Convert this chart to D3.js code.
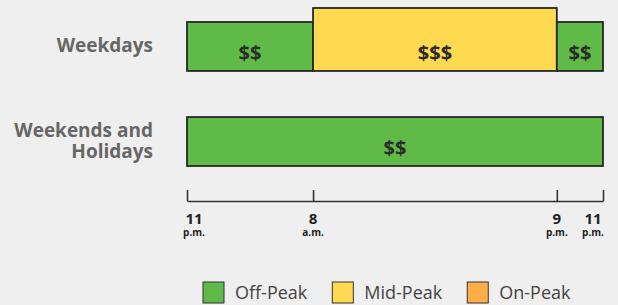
<!DOCTYPE html>
<html>
<head>
<meta charset="utf-8">
<script src="https://cdn.jsdelivr.net/npm/d3@7"></script>
<style>
  html, body { margin: 0; padding: 0; background: #efefef; }
  svg { display: block; font-family: "Open Sans", sans-serif; }
</style>
</head>
<body>
<div class="chart"></div>
<script>
// data
const rows = ['Weekdays', 'Weekends and Holidays'];
const rowLines = [['Weekdays'], ['Weekends and', 'Holidays']];

const segRow = ['Weekdays', 'Weekdays', 'Weekdays', 'Weekends and Holidays'];
const segStart = [0, 9, 22, 0];   // hours after 11 p.m.
const segEnd = [9, 22, 24, 24];
const segPeriod = ['Off-Peak', 'Mid-Peak', 'Off-Peak', 'Off-Peak'];
const segLabel = ['$$', '$$$', '$$', '$$'];

const tickHours = [0, 9, 22, 24];
const tickNum = ['11', '8', '9', '11'];
const tickPeriod = ['p.m.', 'a.m.', 'p.m.', 'p.m.'];

const periods = ['Off-Peak', 'Mid-Peak', 'On-Peak'];
const periodColors = ['#5fba47', '#ffda50', '#ffad48'];

const segments = segRow.map((r, i) => ({
  row: r, start: segStart[i], end: segEnd[i], period: segPeriod[i], label: segLabel[i]
}));

//Create svg
const W = 618, H = 305;
const svg = d3.select('.chart').append('svg')
  .attr('width', W)
  .attr('height', H);

//scales (time axis is not drawn to linear scale in the original)
const left = 187, right = 603;
const xScale = d3.scaleLinear()
  .domain(tickHours)
  .range([0, 0.303, 0.889, 1].map(f => left + f * (right - left)));

const yScale = d3.scaleBand()
  .domain(rows)
  .range([22, 166])
  .paddingInner(0.485);

const color = d3.scaleOrdinal().domain(periods).range(periodColors);
const raise = p => periods.indexOf(p) * 14;

//bars
svg.selectAll('.seg')
  .data(segments)
  .enter()
  .append('rect')
  .attr('class', 'seg')
  .attr('x', d => xScale(d.start))
  .attr('y', d => yScale(d.row) - raise(d.period))
  .attr('width', d => xScale(d.end) - xScale(d.start))
  .attr('height', d => yScale.bandwidth() + raise(d.period))
  .attr('fill', d => color(d.period))
  .attr('stroke', '#262626')
  .attr('stroke-width', 1.8);

svg.selectAll('.seg-label')
  .data(segments)
  .enter()
  .append('text')
  .attr('x', d => (xScale(d.start) + xScale(d.end)) / 2)
  .attr('y', d => yScale(d.row) + yScale.bandwidth() - 11)
  .attr('text-anchor', 'middle')
  .attr('font-size', 20)
  .attr('font-weight', 700)
  .attr('fill', '#2b2b2b')
  .text(d => d.label);

//row labels
const rowLabel = svg.selectAll('.row-label')
  .data(rows)
  .enter()
  .append('text')
  .attr('class', 'row-label')
  .attr('text-anchor', 'end')
  .attr('font-size', 19)
  .attr('font-weight', 700)
  .attr('fill', '#666');

rowLabel.each(function(d, i) {
  const lines = rowLines[i];
  const cy = yScale(d) + yScale.bandwidth() / 2;
  const lh = 21;
  d3.select(this).selectAll('tspan')
    .data(lines)
    .enter()
    .append('tspan')
    .attr('x', 153)
    .attr('y', (l, j) => cy + 6 + (j - (lines.length - 1) / 2) * lh)
    .text(l => l);
});

//axis
const axisY = 201;
const xAxis = d3.axisTop(xScale)
  .tickValues(tickHours)
  .tickSize(11)
  .tickSizeOuter(0)
  .tickFormat('');

const gx = svg.append('g')
  .attr('class', 'axis')
  .attr('transform', `translate(0,${axisY})`)
  .call(xAxis);
gx.selectAll('path, line')
  .attr('stroke', '#333')
  .attr('stroke-width', 1.6);

const shift = i => i === 0 ? 7 : (i === tickHours.length - 1 ? -10 : 0);

svg.selectAll('.tick-num')
  .data(tickHours)
  .enter()
  .append('text')
  .attr('x', (d, i) => xScale(d) + shift(i))
  .attr('y', axisY + 23)
  .attr('text-anchor', 'middle')
  .attr('font-size', 15)
  .attr('font-weight', 700)
  .attr('fill', '#222')
  .text((d, i) => tickNum[i]);

svg.selectAll('.tick-per')
  .data(tickHours)
  .enter()
  .append('text')
  .attr('x', (d, i) => xScale(d) + shift(i))
  .attr('y', axisY + 35)
  .attr('text-anchor', 'middle')
  .attr('font-size', 10)
  .attr('font-weight', 700)
  .attr('fill', '#222')
  .text((d, i) => tickPeriod[i]);

//legend
const legend = svg.append('g').attr('class', 'legend');
let lx = 203;
periods.forEach(p => {
  legend.append('rect')
    .attr('x', lx)
    .attr('y', 282)
    .attr('width', 21)
    .attr('height', 21)
    .attr('fill', color(p))
    .attr('stroke', '#333')
    .attr('stroke-width', 1);
  const t = legend.append('text')
    .attr('x', lx + 32)
    .attr('y', 299)
    .attr('font-size', 18)
    .attr('fill', '#444')
    .text(p);
  lx += 32 + t.node().getComputedTextLength() + 25;
});
</script>
</body>
</html>
